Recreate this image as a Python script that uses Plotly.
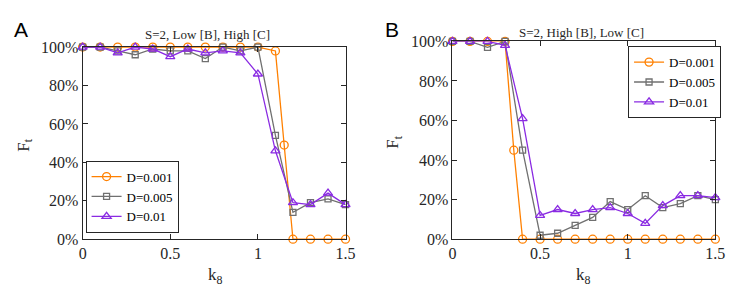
import plotly.graph_objects as go

# page has an 8px body margin on every side: figure is 736x292 drawn at (8, 8)
OFF = 8
W, H = 752 - 2 * OFF, 308 - 2 * OFF

k8 = [0, 0.1, 0.2, 0.3, 0.4, 0.5, 0.6, 0.7, 0.8, 0.9, 1.0, 1.1, 1.2, 1.3, 1.4, 1.5]

# Panel A: S=2, Low [B], High [C]
a_x_d001 = [0, 0.1, 0.2, 0.3, 0.4, 0.5, 0.6, 0.7, 0.8, 0.9, 1.0, 1.1, 1.15, 1.2, 1.3, 1.4, 1.5]
a_d001 = [100, 100, 100, 100, 100, 100, 100, 100, 100, 100, 100, 98, 49, 0, 0, 0, 0]
a_d005 = [100, 100, 98, 96, 99, 98, 98, 94, 100, 98, 100, 54, 14, 19, 21, 18]
a_d01 = [100, 100, 97, 100, 99, 95, 99, 97, 98, 97, 86, 46, 19, 18, 24, 18]

# Panel B: S=2, High [B], Low [C]
b_x_d001 = [0, 0.1, 0.2, 0.3, 0.35, 0.4, 0.5, 0.6, 0.7, 0.8, 0.9, 1.0, 1.1, 1.2, 1.3, 1.4, 1.5]
b_d001 = [100, 100, 100, 100, 45, 0, 0, 0, 0, 0, 0, 0, 0, 0, 0, 0, 0]
b_d005 = [100, 100, 97, 100, 45, 2, 3, 7, 11, 19, 15, 22, 16, 18, 22, 20]
b_d01 = [100, 100, 100, 98, 61, 12, 15, 13, 15, 16, 13, 8, 17, 22, 22, 21]

names = ["D=0.001", "D=0.005", "D=0.01"]
colors = ["#FF8000", "#707070", "#8A2BE2"]
symbols = ["circle-open", "square-open", "triangle-up-open"]
msizes = [8, 6, 8]

xticks = [0, 0.5, 1, 1.5]
xticktext = ["0", "0.5", "1", "1.5"]
yticks = [0, 20, 40, 60, 80, 100]
yticktext = ["0%", "20%", "40%", "60%", "80%", "100%"]

SERIF = "Liberation Serif"
SANS = "Liberation Sans"

fig = go.Figure()

panels = [
    ("x", "y", "legend", [(a_x_d001, a_d001), (k8, a_d005), (k8, a_d01)]),
    ("x2", "y2", "legend2", [(b_x_d001, b_d001), (k8, b_d005), (k8, b_d01)]),
]
for xa, ya, lg, series in panels:
    for i, (xs, ys) in enumerate(series):
        fig.add_trace(go.Scatter(
            x=xs, y=ys, mode="lines+markers", name=names[i],
            xaxis=xa, yaxis=ya, legend=lg, cliponaxis=False,
            line=dict(color=colors[i], width=1.3),
            marker=dict(symbol=symbols[i], size=msizes[i], color=colors[i],
                        line=dict(width=1.3, color=colors[i])),
        ))

def px_x(p):
    return (p - OFF) / W

def px_y(p):
    return 1 - (p - OFF) / H

def axis_common():
    return dict(
        showline=True, linecolor="#262626", linewidth=1, mirror="ticks",
        ticks="inside", ticklen=5, tickcolor="#262626", showgrid=False, zeroline=False,
        tickfont=dict(family=SERIF, size=16, color="#262626"),
    )

fig.update_layout(
    width=W, height=H,
    margin=dict(l=0, r=0, t=0, b=0),
    font=dict(family=SERIF, color="#262626"),
    paper_bgcolor="white", plot_bgcolor="white",
    xaxis=dict(domain=[px_x(80), px_x(348)], range=[0, 1.5], tickmode="array",
               tickvals=xticks, ticktext=xticktext, anchor="y", **axis_common()),
    yaxis=dict(domain=[px_y(245), px_y(41)], range=[0, 100], tickmode="array",
               tickvals=yticks, ticktext=yticktext, anchor="x", **axis_common()),
    xaxis2=dict(domain=[px_x(457), px_x(725)], range=[0, 1.5], tickmode="array",
                tickvals=xticks, ticktext=xticktext, anchor="y2", **axis_common()),
    yaxis2=dict(domain=[px_y(245), px_y(35)], range=[0, 100], tickmode="array",
                tickvals=yticks, ticktext=yticktext, anchor="x2", **axis_common()),
    legend=dict(x=px_x(83), y=px_y(238), xanchor="left", yanchor="bottom",
                bordercolor="#262626", borderwidth=1, bgcolor="white",
                font=dict(family=SERIF, size=13, color="black"), itemwidth=30,
                tracegroupgap=0),
    legend2=dict(x=px_x(636), y=px_y(40), xanchor="left", yanchor="top",
                 bordercolor="#262626", borderwidth=1, bgcolor="white",
                 font=dict(family=SERIF, size=13, color="black"), itemwidth=30,
                 tracegroupgap=0),
    showlegend=True,
)

annotations = [
    dict(text="A", x=px_x(8), y=px_y(22), xanchor="left", yanchor="middle",
         font=dict(family=SANS, size=21, color="black")),
    dict(text="B", x=px_x(386), y=px_y(22), xanchor="left", yanchor="middle",
         font=dict(family=SANS, size=21, color="black")),
    dict(text="S=2, Low [B], High [C]", x=px_x(207), y=px_y(28), xanchor="center",
         yanchor="middle", font=dict(family=SERIF, size=13, color="#262626")),
    dict(text="S=2, High [B], Low [C]", x=px_x(589), y=px_y(25), xanchor="center",
         yanchor="middle", font=dict(family=SERIF, size=13, color="#262626")),
    dict(text="F<sub>t</sub>", x=px_x(21), y=px_y(145), textangle=-90,
         xanchor="center", yanchor="middle",
         font=dict(family=SERIF, size=17, color="#262626")),
    dict(text="F<sub>t</sub>", x=px_x(398), y=px_y(142), textangle=-90,
         xanchor="center", yanchor="middle",
         font=dict(family=SERIF, size=17, color="#262626")),
    dict(text="k<sub>8</sub>", x=px_x(215), y=px_y(284), xanchor="center",
         yanchor="middle", font=dict(family=SERIF, size=17, color="#262626")),
    dict(text="k<sub>8</sub>", x=px_x(591), y=px_y(284), xanchor="center",
         yanchor="middle", font=dict(family=SERIF, size=17, color="#262626")),
]
for a in annotations:
    a.update(xref="paper", yref="paper", showarrow=False)
fig.update_layout(annotations=annotations)

fig.write_html("out.html", config={"displayModeBar": False})
